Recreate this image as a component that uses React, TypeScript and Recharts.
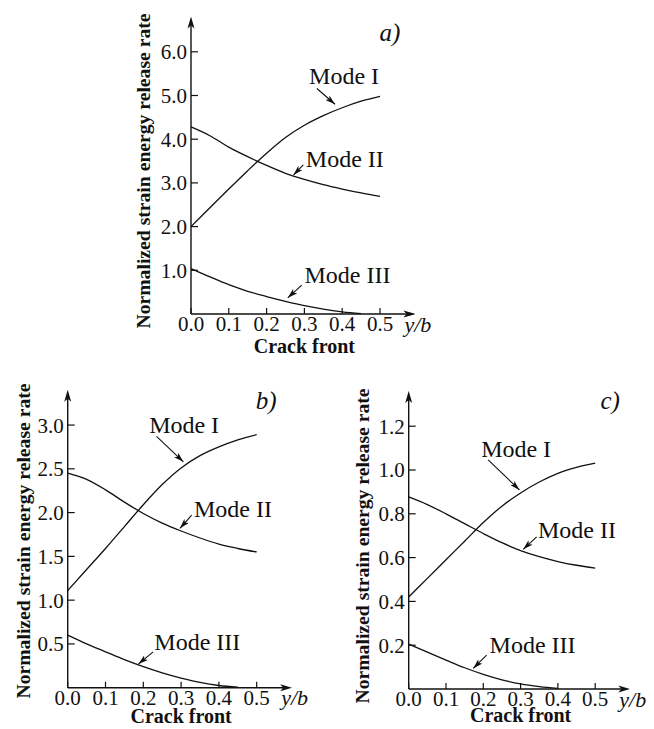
import { LineChart, Line, XAxis, YAxis, ReferenceLine, ReferenceDot } from 'recharts'

const W = 654
const H = 729
const FONT = '"Liberation Serif", "Times New Roman", serif'
const INK = '#111'

// crack front position y/b, shared by all three panels
const crackFront = [0, 0.05, 0.1, 0.15, 0.2, 0.25, 0.3, 0.35, 0.4, 0.45, 0.5]
const xTicks = [0, 0.1, 0.2, 0.3, 0.4, 0.5]

// a)
const modeIA = [2.0, 2.43, 2.86, 3.28, 3.68, 4.04, 4.32, 4.54, 4.72, 4.87, 4.98]
const modeIIA = [4.28, 4.08, 3.82, 3.6, 3.4, 3.22, 3.08, 2.96, 2.86, 2.77, 2.69]
const modeIIIA = [1.04, 0.85, 0.67, 0.52, 0.4, 0.29, 0.19, 0.11, 0.05, 0.01, null]
const yTicksA = [1, 2, 3, 4, 5, 6]

// b)
const modeIB = [1.11, 1.35, 1.59, 1.84, 2.09, 2.32, 2.51, 2.65, 2.75, 2.83, 2.89]
const modeIIB = [2.45, 2.38, 2.26, 2.12, 1.99, 1.88, 1.79, 1.71, 1.64, 1.59, 1.55]
const modeIIIB = [0.6, 0.5, 0.41, 0.32, 0.24, 0.17, 0.11, 0.06, 0.025, 0.005, null]
const yTicksB = [0.5, 1, 1.5, 2, 2.5, 3]

// c)
const modeIC = [0.42, 0.505, 0.59, 0.675, 0.76, 0.835, 0.895, 0.945, 0.985, 1.012, 1.031]
const modeIIC = [0.877, 0.842, 0.8, 0.755, 0.71, 0.668, 0.632, 0.604, 0.582, 0.565, 0.552]
const modeIIIC = [0.205, 0.168, 0.132, 0.097, 0.067, 0.042, 0.023, 0.011, 0.003, null, null]
const yTicksC = [0.2, 0.4, 0.6, 0.8, 1.0, 1.2]

type Note = { text: string; at: [number, number]; from: [number, number]; to: [number, number] }

type PanelCfg = {
  id: string
  tag: string
  tagAt: [number, number]
  m1: (number | null)[]
  m2: (number | null)[]
  m3: (number | null)[]
  yTicks: number[]
  yMax: number
  // layout in page pixels
  x0: number
  y0: number
  xScale: number
  yScale: number
  titleX: number
  titleY: number
  crackDy: number
  notes: Note[]
}

const X_MAX = 0.57

const panels: PanelCfg[] = [
  {
    id: 'a', tag: 'a)', tagAt: [0.526, 6.45],
    m1: modeIA, m2: modeIIA, m3: modeIIIA, yTicks: yTicksA, yMax: 6.6,
    x0: 191, y0: 314, xScale: 378, yScale: 43.7,
    titleX: 143, titleY: 171, crackDy: 39,
    notes: [
      { text: 'Mode I', at: [0.405, 5.45], from: [0.333, 5.16], to: [0.381, 4.8] },
      { text: 'Mode II', at: [0.407, 3.56], from: [0.297, 3.41], to: [0.271, 3.18] },
      { text: 'Mode III', at: [0.414, 0.915], from: [0.293, 0.66], to: [0.256, 0.37] },
    ],
  },
  {
    id: 'b', tag: 'b)', tagAt: [0.525, 3.29],
    m1: modeIB, m2: modeIIB, m3: modeIIIB, yTicks: yTicksB, yMax: 3.3,
    x0: 67.7, y0: 687.7, xScale: 378, yScale: 87.55,
    titleX: 23, titleY: 541, crackDy: 35,
    notes: [
      { text: 'Mode I', at: [0.308, 3.01], from: [0.235, 2.87], to: [0.306, 2.58] },
      { text: 'Mode II', at: [0.437, 2.05], from: [0.328, 1.97], to: [0.297, 1.82] },
      { text: 'Mode III', at: [0.343, 0.53], from: [0.226, 0.41], to: [0.187, 0.27] },
    ],
  },
  {
    id: 'c', tag: 'c)', tagAt: [0.54, 1.32],
    m1: modeIC, m2: modeIIC, m3: modeIIIC, yTicks: yTicksC, yMax: 1.32,
    x0: 408.7, y0: 689, xScale: 373, yScale: 219,
    titleX: 362, titleY: 546, crackDy: 33,
    notes: [
      { text: 'Mode I', at: [0.288, 1.1], from: [0.213, 1.046], to: [0.297, 0.909] },
      { text: 'Mode II', at: [0.451, 0.73], from: [0.343, 0.695], to: [0.307, 0.638] },
      { text: 'Mode III', at: [0.332, 0.205], from: [0.209, 0.155], to: [0.173, 0.094] },
    ],
  },
]

const Y_AXIS_W = 40
const X_AXIS_H = 40

function Panel({ p }: { p: PanelCfg }) {
  const rows = crackFront.map((x, i) => ({ x, m1: p.m1[i], m2: p.m2[i], m3: p.m3[i] }))
  const plotRight = p.x0 + X_MAX * p.xScale
  const plotTop = p.y0 - p.yMax * p.yScale
  const margin = {
    left: p.x0 - Y_AXIS_W,
    top: plotTop,
    right: W - plotRight,
    bottom: H - p.y0 - X_AXIS_H,
  }
  const axisArrow = `axis-arrow-${p.id}`
  const noteArrow = `note-arrow-${p.id}`

  const yTitle = () => (
    <text
      x={p.titleX}
      y={p.titleY}
      transform={`rotate(-90, ${p.titleX}, ${p.titleY})`}
      textAnchor="middle"
      dominantBaseline="central"
      fontFamily={FONT}
      fontWeight="bold"
      fontSize={19.5}
      textLength={315}
      lengthAdjust="spacingAndGlyphs"
      fill={INK}
    >
      Normalized strain energy release rate
    </text>
  )

  const xTitle = () => (
    <g fill={INK} fontFamily={FONT}>
      <text x={p.x0 + 0.3 * p.xScale} y={p.y0 + p.crackDy} textAnchor="middle" fontWeight="bold" fontSize={20}>
        Crack front
      </text>
      <text x={plotRight - 2} y={p.y0 + 17.5} fontStyle="italic" fontSize={22}>
        y/b
      </text>
    </g>
  )

  const lineProps = { type: 'monotone' as const, stroke: INK, strokeWidth: 1.3, dot: false, isAnimationActive: false }

  return (
    <div style={{ position: 'absolute', left: 0, top: 0 }}>
      <LineChart width={W} height={H} data={rows} margin={margin}>
        <defs>
          <marker id={axisArrow} viewBox="0 0 12 8" refX={3} refY={4} markerWidth={12} markerHeight={8}
            markerUnits="userSpaceOnUse" orient="auto-start-reverse">
            <path d="M0,0.5 L12,4 L0,7.5 L3,4 Z" fill={INK} />
          </marker>
          <marker id={noteArrow} viewBox="0 0 10 6" refX={10} refY={3} markerWidth={10} markerHeight={6}
            markerUnits="userSpaceOnUse" orient="auto">
            <path d="M0,0 L10,3 L0,6 L2.5,3 Z" fill={INK} />
          </marker>
        </defs>
        <XAxis
          type="number"
          dataKey="x"
          domain={[0, X_MAX]}
          ticks={xTicks}
          tickFormatter={(v: number) => v.toFixed(1)}
          height={X_AXIS_H}
          axisLine={{ stroke: INK, strokeWidth: 1.4, markerEnd: `url(#${axisArrow})` }}
          tickLine={{ stroke: INK, strokeWidth: 1.2 }}
          tickSize={-6}
          tickMargin={8.5}
          tick={{ fill: INK, fontSize: 21, fontFamily: FONT }}
          interval={0}
          label={xTitle}
        />
        <YAxis
          type="number"
          domain={[0, p.yMax]}
          ticks={p.yTicks}
          tickFormatter={(v: number) => v.toFixed(1)}
          width={Y_AXIS_W}
          axisLine={{ stroke: INK, strokeWidth: 1.4, markerStart: `url(#${axisArrow})` }}
          tickLine={{ stroke: INK, strokeWidth: 1.2 }}
          tickSize={-7}
          tickMargin={11}
          tick={{ fill: INK, fontSize: 21, fontFamily: FONT }}
          interval={0}
          label={yTitle}
        />
        <Line dataKey="m1" {...lineProps} />
        <Line dataKey="m2" {...lineProps} />
        <Line dataKey="m3" {...lineProps} />
        {p.notes.map((n) => (
          <ReferenceLine
            key={`arrow-${n.text}`}
            segment={[{ x: n.from[0], y: n.from[1] }, { x: n.to[0], y: n.to[1] }]}
            stroke={INK}
            shape={(s: any) => (
              <line x1={s.x1} y1={s.y1} x2={s.x2} y2={s.y2} stroke={INK} strokeWidth={1.1}
                markerEnd={`url(#${noteArrow})`} />
            )}
          />
        ))}
        {p.notes.map((n) => (
          <ReferenceDot
            key={`label-${n.text}`}
            x={n.at[0]}
            y={n.at[1]}
            r={0}
            stroke="none"
            fill="none"
            label={{ value: n.text, position: 'center', fontSize: 24, fontFamily: FONT, fill: INK }}
          />
        ))}
        <ReferenceDot
          x={p.tagAt[0]}
          y={p.tagAt[1]}
          r={0}
          stroke="none"
          fill="none"
          ifOverflow="visible"
          label={{ value: p.tag, position: 'center', fontSize: 25, fontStyle: 'italic', fontFamily: FONT, fill: INK }}
        />
      </LineChart>
    </div>
  )
}

export default function App() {
  return (
    <div style={{ position: 'absolute', left: 0, top: 0, width: W, height: H, background: '#fff' }}>
      {panels.map((p) => (
        <Panel key={p.id} p={p} />
      ))}
    </div>
  )
}
